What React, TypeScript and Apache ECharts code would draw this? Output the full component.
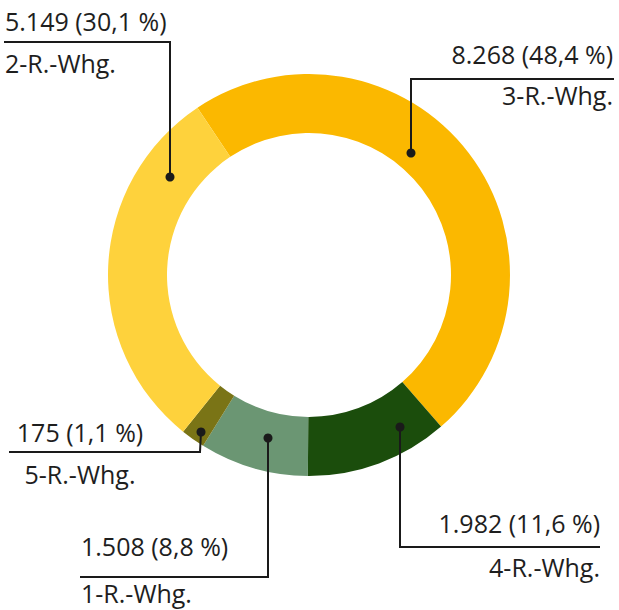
import React, { useEffect, useRef } from "react";
import * as echarts from "echarts";

// Data, clockwise from the start angle
const CATEGORIES = ["3-R.-Whg.", "4-R.-Whg.", "1-R.-Whg.", "5-R.-Whg.", "2-R.-Whg."];
const VALUES = [8268, 1982, 1508, 175, 5149];
const PERCENTS = [48.4, 11.6, 8.8, 1.1, 30.1];
const COLORS = ["#FBB800", "#1B4D0C", "#6B9673", "#7A7416", "#FED23C"];

// Label layout (pixels)
type Pt = [number, number];
const LABEL_X = [613, 600, 81, 80, 5];
const LABEL_ALIGN = ["right", "right", "left", "center", "left"];
const VALUE_Y = [54, 523, 546, 432, 20.5];
const NAME_Y = [95, 567, 593, 474, 62.5];
const LEADERS: Pt[][] = [
  [[411, 153], [411, 79], [614, 79]],
  [[400, 427], [400, 547], [600, 547]],
  [[268, 438], [268, 577], [80, 577]],
  [[201, 432], [200, 452], [9, 452]],
  [[170, 177], [170, 42], [4, 42]],
];

const FONT = "'Open Sans', 'Noto Sans', sans-serif";
const TEXT_COLOR = "#1e1e1e";
const LINE_COLOR = "#1a1a1a";

const fmtInt = (v: number) => String(v).replace(/\B(?=(\d{3})+(?!\d))/g, ".");
const fmtPct = (p: number) => p.toFixed(1).replace(".", ",") + " %";

export default function App() {
  const ref = useRef<HTMLDivElement>(null);

  useEffect(() => {
    if (!ref.current) return;
    const chart = echarts.init(ref.current, undefined, { renderer: "svg" });
    const data = CATEGORIES.map((name, i) => ({
      name,
      value: VALUES[i],
      itemStyle: { color: COLORS[i] },
    }));
    const labelStyle = {
      show: true,
      color: TEXT_COLOR,
      fontSize: 25,
      fontFamily: FONT,
    };
    const base = {
      type: "pie",
      center: [309, 275],
      radius: [142, 201],
      startAngle: 123.7,
      clockwise: true,
      minAngle: 7,
      avoidLabelOverlap: false,
      emphasis: { disabled: true },
      silent: true,
      labelLine: { show: false },
    };
    chart.setOption({
      animation: false,
      backgroundColor: "#ffffff",
      series: [
        {
          ...base,
          data,
          label: {
            ...labelStyle,
            formatter: (p: any) => `${fmtInt(p.value)} (${fmtPct(PERCENTS[p.dataIndex])})`,
          },
          labelLayout: (p: any) => ({
            x: LABEL_X[p.dataIndex],
            y: VALUE_Y[p.dataIndex],
            align: LABEL_ALIGN[p.dataIndex],
            verticalAlign: "middle",
          }),
        },
        {
          ...base,
          data: data.map((d) => ({ ...d, itemStyle: { color: "rgba(0,0,0,0)" } })),
          label: { ...labelStyle, formatter: (p: any) => p.name },
          labelLayout: (p: any) => ({
            x: LABEL_X[p.dataIndex],
            y: NAME_Y[p.dataIndex],
            align: LABEL_ALIGN[p.dataIndex],
            verticalAlign: "middle",
          }),
        },
      ],
      graphic: [
        ...LEADERS.map((pts) => ({
          type: "polyline",
          z: 100,
          shape: { points: pts },
          style: { stroke: LINE_COLOR, lineWidth: 2, fill: null },
        })),
        ...LEADERS.map((pts) => ({
          type: "circle",
          z: 101,
          shape: { cx: pts[0][0], cy: pts[0][1], r: 4.5 },
          style: { fill: LINE_COLOR },
        })),
      ],
    });
    return () => chart.dispose();
  }, []);

  return (
    <div
      ref={ref}
      style={{ position: "fixed", left: 0, top: 0, width: 619, height: 610 }}
    />
  );
}
